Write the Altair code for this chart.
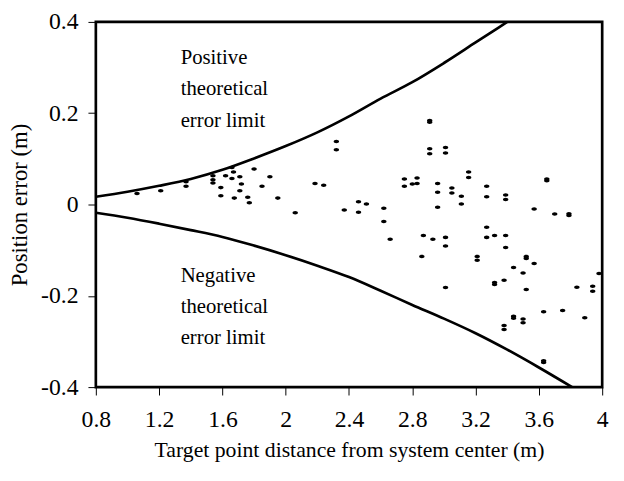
import altair as alt
import pandas as pd

# Measured target points: distance (m) and position error (m)
dist = [1.06, 1.21, 1.37, 1.37, 1.54, 1.54, 1.54, 1.59, 1.59, 1.62,
        1.66, 1.67, 1.66, 1.675, 1.71, 1.72, 1.71, 1.76, 1.77, 1.80,
        1.85, 1.90, 1.95, 2.06, 2.185, 2.24, 2.32, 2.32, 2.37, 2.46,
        2.46, 2.51, 2.62, 2.62, 2.66, 2.75, 2.75, 2.80, 2.83, 2.83,
        2.87, 2.86, 2.93, 2.91, 2.91, 2.91, 2.91, 3.01, 3.01, 2.96,
        2.96, 2.96, 3.01, 3.01, 3.01, 3.05, 3.05, 3.11, 3.11, 3.156,
        3.156, 3.21, 3.21, 3.27, 3.27, 3.27, 3.27, 3.32, 3.32, 3.32,
        3.39, 3.39, 3.39, 3.39, 3.38, 3.38, 3.38, 3.44, 3.44, 3.44,
        3.50, 3.50, 3.50, 3.52, 3.52, 3.52, 3.57, 3.57, 3.63, 3.63,
        3.63, 3.65, 3.65, 3.70, 3.75, 3.79, 3.79, 3.84, 3.89, 3.94,
        3.94, 3.98]
err = [0.024, 0.030, 0.050, 0.040, 0.063, 0.054, 0.047, 0.037, 0.019, 0.063,
       0.081, 0.071, 0.057, 0.014, 0.061, 0.045, 0.030, 0.016, 0.004, 0.078,
       0.040, 0.061, 0.014, -0.018, 0.046, 0.042, 0.138, 0.120, -0.012, 0.006,
       -0.017, 0.001, -0.008, -0.037, -0.076, 0.056, 0.040, 0.045, 0.058, 0.046,
       -0.068, -0.114, -0.076, 0.180, 0.184, 0.122, 0.111, 0.125, 0.113, 0.046,
       0.027, -0.006, -0.072, -0.091, -0.182, 0.036, 0.025, 0.018, 0.001, 0.071,
       0.059, -0.114, -0.122, 0.040, 0.017, -0.050, -0.072, -0.068, -0.171, -0.175,
       0.021, 0.011, -0.068, -0.094, -0.166, -0.265, -0.274, -0.138, -0.245, -0.249,
       -0.150, -0.251, -0.259, -0.114, -0.118, -0.186, -0.010, -0.129, -0.235, -0.342,
       -0.346, 0.052, 0.056, -0.021, -0.232, -0.020, -0.024, -0.181, -0.248, -0.179,
       -0.190, -0.151]

# Theoretical error limits
pos_x = [0.8, 1.0, 1.2, 1.4, 1.6, 1.8, 2.0, 2.2, 2.4, 2.6, 2.8, 3.0, 3.2, 3.4]
pos_y = [0.017, 0.028, 0.041, 0.056, 0.076, 0.101, 0.128, 0.158, 0.193, 0.232,
         0.268, 0.310, 0.355, 0.400]
neg_x = [0.8, 1.0, 1.2, 1.4, 1.6, 1.8, 2.0, 2.2, 2.4, 2.6, 2.8, 3.0, 3.2, 3.4,
         3.6, 3.81]
neg_y = [-0.018, -0.029, -0.042, -0.056, -0.071, -0.090, -0.111, -0.134, -0.159,
         -0.189, -0.220, -0.250, -0.282, -0.318, -0.357, -0.400]

x_ticks = [0.8, 1.2, 1.6, 2.0, 2.4, 2.8, 3.2, 3.6, 4.0]
y_ticks = [-0.4, -0.2, 0.0, 0.2, 0.4]

notes = pd.DataFrame({
    "x": [1.336, 1.336],
    "y": [0.307, -0.169],
    "t": [["Positive", "theoretical", "error limit"],
          ["Negative", "theoretical", "error limit"]],
})

pts = pd.DataFrame({"d": dist, "e": err})
lims = pd.DataFrame({
    "d": pos_x + neg_x,
    "e": pos_y + neg_y,
    "k": ["pos"] * len(pos_x) + ["neg"] * len(neg_x),
})

FONT = "Liberation Serif"
label_expr = "datum.value < 0 ? '-' + format(-datum.value, '~g') : format(datum.value, '~g')"

xs = alt.Scale(domain=[0.8, 4.0], nice=False, zero=False)
ys = alt.Scale(domain=[-0.4, 0.4], nice=False, zero=False)

x_axis = alt.Axis(values=x_ticks, labelExpr=label_expr, title="Target point distance from system center (m)",
                  grid=False, domain=False, tickSize=8, tickColor="black", tickWidth=1,
                  labelFont=FONT, labelFontSize=24, labelColor="black", labelPadding=13,
                  titleFont=FONT, titleFontSize=22, titleFontWeight="normal", titleColor="black",
                  titlePadding=8, labelFlush=False)
y_axis = alt.Axis(values=y_ticks, labelExpr=label_expr, title="Position error (m)",
                  grid=False, domain=False, tickSize=8, tickColor="black", tickWidth=1,
                  labelFont=FONT, labelFontSize=24, labelColor="black", labelPadding=10,
                  titleFont=FONT, titleFontSize=23, titleFontWeight="normal", titleColor="black",
                  titlePadding=9, labelFlush=False)

points = alt.Chart(pts).mark_point(
    shape="M-1,0A1,0.65,0,1,0,1,0A1,0.65,0,1,0,-1,0Z", filled=True, color="black", size=30, opacity=1
).encode(
    x=alt.X("d:Q", scale=xs, axis=x_axis),
    y=alt.Y("e:Q", scale=ys, axis=y_axis),
)

lines = alt.Chart(lims).mark_line(color="black", strokeWidth=2.7, interpolate="monotone", clip=True).encode(
    x=alt.X("d:Q", scale=xs),
    y=alt.Y("e:Q", scale=ys),
    detail="k:N",
)

text = alt.Chart(notes).mark_text(
    align="left", baseline="alphabetic", font=FONT, fontSize=21, lineHeight=31.5, color="black"
).encode(
    x=alt.X("x:Q", scale=xs),
    y=alt.Y("y:Q", scale=ys),
    text="t",
)

chart = alt.layer(lines, points, text).properties(
    width=513, height=370,
    autosize=alt.AutoSizeParams(type="none"),
    padding={"left": 89, "top": 11, "right": 14, "bottom": 90},
    background="white",
).configure_view(stroke="black", strokeWidth=2.7).configure_axis(
    labelFont=FONT, titleFont=FONT
).configure_text(font=FONT)

chart.save("out.html", embed_options={"renderer": "svg", "actions": False})
